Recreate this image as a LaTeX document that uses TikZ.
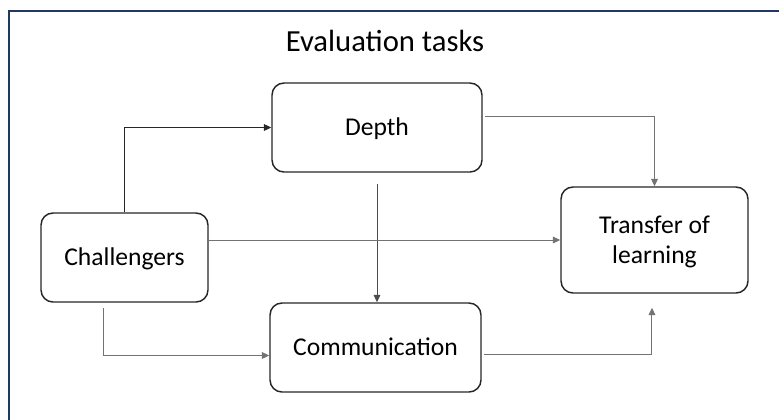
\documentclass[tikz,border=0pt]{standalone}
\usepackage{fontspec}
\setmainfont{Carlito}
\usetikzlibrary{arrows.meta}
\definecolor{framenavy}{RGB}{31,56,100}
\tikzset{
  task/.style={draw=black!85, line width=1.1pt, rounded corners=9pt, inner sep=0pt,
    align=center, text height=12.4pt, text depth=0pt,
    font=\fontsize{19.2}{22.5}\selectfont},
  link/.style={draw=black!55, line width=0.75pt, -{Triangle[length=5.5pt,width=5pt]}},
  darklink/.style={link, draw=black!85},
}

\begin{document}
\begin{tikzpicture}[x=0.75pt,y=-0.75pt]
\useasboundingbox (0,0) rectangle (779,419);
\draw[framenavy, line width=1.5pt] (9,11) rectangle (800,440);

\node[anchor=base, font=\fontsize{23}{26}\selectfont] (title) at (385,51.7) {Evaluation tasks};

\node[task, minimum width=157.5pt, minimum height=66.75pt] (depth) at (377,127.5) {Depth};
\node[task, minimum width=125.25pt, minimum height=66.75pt] (chal) at (124.5,257.5) {Challengers};
\node[task, minimum width=158.25pt, minimum height=66.75pt] (comm) at (375.5,347.5) {Communication};
\node[task, minimum width=140.25pt, minimum height=79.5pt, text height=34.9pt] (trans) at (654.5,240) {Transfer of\\learning};

\draw[darklink] (chal.north) |- (depth.west);
\draw[link, shorten <=2pt] ([yshift=7.9pt]depth.east) -| (trans.north);
\draw[link, draw=black!70, shorten <=8.25pt] (depth.south) -- (depth.south |- comm.north);
\draw[link] (chal.east |- trans.west) -- (trans.west);
\draw[link, shorten <=3.75pt] ([xshift=-15.4pt]chal.south) |- ([yshift=-6pt]comm.west);
\draw[link, shorten <=1.5pt, shorten >=10.5pt] ([yshift=-5.6pt]comm.east) -| ([xshift=-1.9pt]trans.south);
\end{tikzpicture}
\end{document}
